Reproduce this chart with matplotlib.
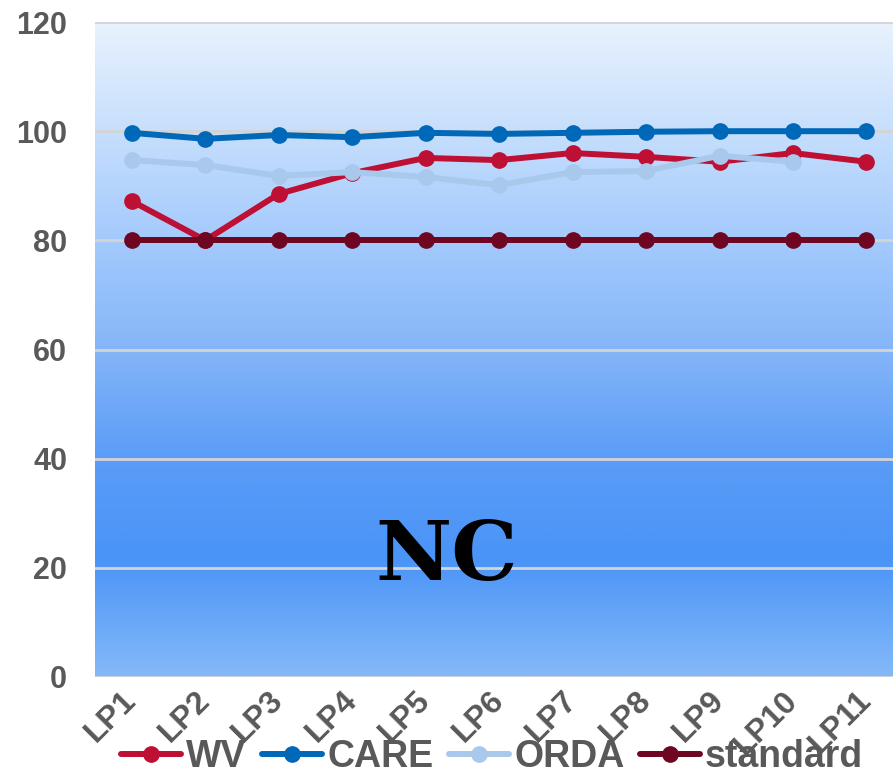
import numpy as np
import matplotlib
matplotlib.use("Agg")
import matplotlib.pyplot as plt
import matplotlib.transforms as mtransforms
from matplotlib.colors import LinearSegmentedColormap

# data
labels = ["LP1", "LP2", "LP3", "LP4", "LP5", "LP6", "LP7", "LP8", "LP9", "LP10", "LP11"]
wv = [87.2, 80.0, 88.5, 92.3, 95.1, 94.7, 96.0, 95.3, 94.4, 96.0, 94.4]
care = [99.7, 98.6, 99.3, 98.9, 99.7, 99.5, 99.7, 99.9, 100.0, 100.0, 100.0]
orda = [94.7, 93.8, 91.8, 92.5, 91.6, 90.1, 92.5, 92.7, 95.5, 94.4, np.nan]
standard = [80, 80, 80, 80, 80, 80, 80, 80, 80, 80, 80]

series = [("WV", wv, "#be0f34"),
          ("CARE", care, "#0068b8"),
          ("ORDA", orda, "#a8c8ec"),
          ("standard", standard, "#6e0621")]

plt.rcParams["font.family"] = ["Liberation Sans", "DejaVu Sans"]

fig = plt.figure(figsize=(8.93, 7.73), dpi=100)
ax = fig.add_axes([0.1064, 0.1242, 0.905, 0.8473])

x = np.arange(len(labels))
ax.set_xlim(-0.5, len(labels) - 0.5)
ax.set_ylim(0, 120)

# background gradient of the plot area
cmap = LinearSegmentedColormap.from_list(
    "bg", [(0.0, "#e8f2fe"), (0.12, "#d0e4fd"), (0.35, "#a0c8fc"), (0.5, "#85b5f9"),
           (0.67, "#5a9cf7"), (0.82, "#4a94f7"), (1.0, "#84b9f9")])
grad = np.linspace(0, 1, 256).reshape(-1, 1)
ax.imshow(grad, cmap=cmap, aspect="auto", extent=(-0.5, len(labels) - 0.5, 0, 120),
          origin="upper", zorder=0)

for yv in range(0, 121, 20):
    ax.axhline(yv, color="#d4d4d4", lw=2, zorder=1)

for name, vals, col in series:
    ax.plot(x, vals, color=col, lw=4.3, marker="o", markersize=11,
            label=name, zorder=3, solid_capstyle="round")

ax.text(4.29, 22, "NC", family="DejaVu Serif", fontweight="bold", fontsize=60,
        ha="center", va="center", color="black", zorder=4)

ax.set_yticks(range(0, 121, 20))
ax.set_xticks(x)
ax.set_xticklabels(labels, rotation=45, ha="right")
ax.tick_params(length=0, colors="#595959", labelsize=22)
ax.tick_params(axis="x", labelsize=23, pad=6)
ax.tick_params(axis="y", pad=20)
shift = mtransforms.ScaledTranslation(11 / 100, 0, fig.dpi_scale_trans)
for t in ax.get_xticklabels():
    t.set_fontweight("bold")
    t.set_transform(t.get_transform() + shift)
for t in ax.get_yticklabels():
    t.set_fontweight("bold")
for s in ax.spines.values():
    s.set_visible(False)

fig.legend(loc="center", bbox_to_anchor=(492 / 893, 1 - 757 / 773), ncol=4,
           frameon=False, handlelength=1.6, handletextpad=0.15,
           columnspacing=0.4, labelcolor="#595959", prop={"weight": "bold", "size": 27})

fig.savefig("out.png", dpi=100)
